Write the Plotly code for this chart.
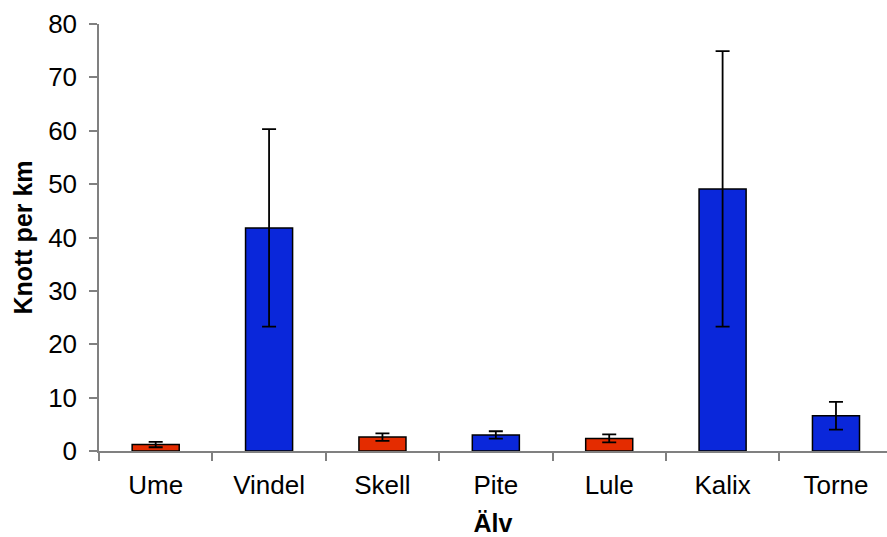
import plotly.graph_objects as go

# Rivers and mean counts per km with symmetric error
rivers = ["Ume", "Vindel", "Skell", "Pite", "Lule", "Kalix", "Torne"]
knott_per_km = [1.2, 41.8, 2.6, 3.0, 2.35, 49.1, 6.6]
error = [0.5, 18.5, 0.7, 0.7, 0.75, 25.8, 2.6]
regulated = [True, False, True, False, True, False, False]

RED = "#E42C00"
BLUE = "#0A27DA"
colors = [RED if r else BLUE for r in regulated]

font_family = "Liberation Sans, Arial, Helvetica, sans-serif"

fig = go.Figure(
    go.Bar(
        x=rivers,
        y=knott_per_km,
        width=0.415,
        marker=dict(color=colors, line=dict(color="black", width=1.5)),
        error_y=dict(
            type="data",
            array=error,
            symmetric=True,
            color="black",
            thickness=1.8,
            width=7,
        ),
        showlegend=False,
    )
)

fig.update_layout(
    width=887,
    height=537,
    margin=dict(l=99, r=0, t=24, b=86, pad=0),
    paper_bgcolor="white",
    plot_bgcolor="white",
    font=dict(family=font_family, size=26, color="black"),
    xaxis=dict(
        range=[-0.5, 6.45],
        showline=True,
        linecolor="#808080",
        linewidth=1.5,
        ticks="outside",
        tickson="boundaries",
        ticklen=8,
        tickwidth=1.5,
        tickcolor="#808080",
        showgrid=False,
        zeroline=False,
        tickfont=dict(size=26),
        ticklabelstandoff=10,
        title=dict(text="<b>Älv</b>", font=dict(size=25), standoff=23),
        automargin=False,
    ),
    yaxis=dict(
        range=[0, 80],
        dtick=10,
        showline=True,
        linecolor="#808080",
        linewidth=1.5,
        ticks="outside",
        ticklen=8,
        tickwidth=1.5,
        tickcolor="#808080",
        showgrid=False,
        zeroline=False,
        tickfont=dict(size=26),
        ticklabelstandoff=7,
        title=dict(text="<b>Knott per km</b>", font=dict(size=25), standoff=8),
        automargin=False,
    ),
    bargap=0.585,
)

fig.write_html("out.html")
